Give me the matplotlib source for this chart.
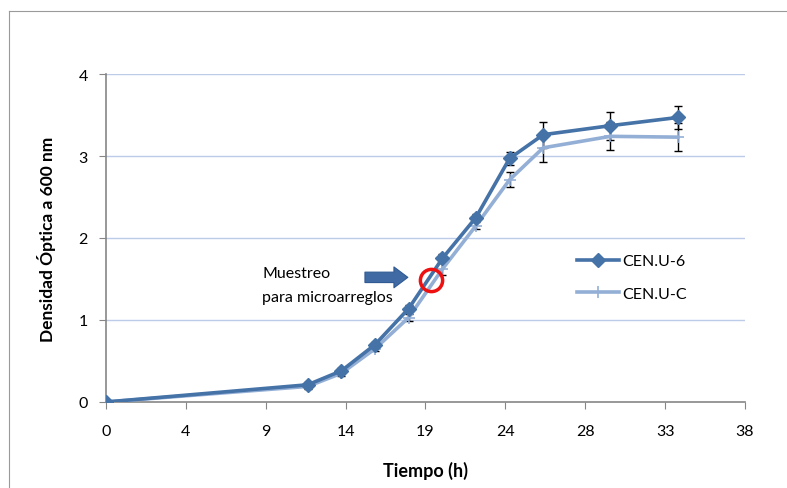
import matplotlib
matplotlib.use('Agg')
import matplotlib.pyplot as plt
from matplotlib.lines import Line2D

# Growth curve data
tiempo = [0, 12, 14, 16, 18, 20, 22, 24, 26, 30, 34]
cen_u6 = [0.0, 0.21, 0.38, 0.70, 1.14, 1.75, 2.25, 2.97, 3.26, 3.37, 3.47]
cen_u6_err = [0.02, 0.03, 0.03, 0.03, 0.04, 0.05, 0.04, 0.08, 0.16, 0.17, 0.14]
cen_uc = [0.0, 0.19, 0.35, 0.65, 1.03, 1.62, 2.15, 2.71, 3.10, 3.24, 3.23]
cen_uc_err = [0.02, 0.03, 0.03, 0.03, 0.04, 0.07, 0.04, 0.09, 0.17, 0.17, 0.17]
series_names = ["CEN.U-6", "CEN.U-C"]
xtick_labels = ["0", "4", "9", "14", "19", "24", "28", "33", "38"]
ytick_values = [0, 1, 2, 3, 4]

plt.rcParams['font.family'] = ['Lato', 'DejaVu Sans']
dark_blue = '#4572a7'
light_blue = '#94afd6'
axis_gray = '#868686'

fig = plt.figure(figsize=(7.87, 4.89), dpi=100)
ax = fig.add_axes([0.1347, 0.1759, 0.8119, 0.6707])

# outer chart border
fig.add_artist(Line2D([9/787, 9/787], [0, 1 - 12/489], transform=fig.transFigure, color='#9a9a9a', linewidth=0.8))
fig.add_artist(Line2D([9/787, 1], [1 - 12/489, 1 - 12/489], transform=fig.transFigure, color='#9a9a9a', linewidth=0.8))

for y in ytick_values[1:]:
    ax.axhline(y, color='#bccbe8', linewidth=1.0, zorder=0)

ax.errorbar(tiempo, cen_uc, yerr=cen_uc_err, fmt='none', ecolor='black', elinewidth=1, capsize=3, capthick=1, zorder=2)
ax.errorbar(tiempo, cen_u6, yerr=cen_u6_err, fmt='none', ecolor='black', elinewidth=1, capsize=3, capthick=1, zorder=2)
ax.plot(tiempo, cen_uc, color=light_blue, linewidth=2.6, marker='+', markersize=9, markeredgewidth=1.2, label=series_names[1], zorder=3)
ax.plot(tiempo, cen_u6, color=dark_blue, linewidth=2.6, marker='D', markersize=7.5, label=series_names[0], zorder=4)

# annotation: arrow + circle
ax.text(9.3, 1.57, "Muestreo", fontsize=11.5, ha='left', va='center')
ax.text(9.3, 1.28, "para microarreglos", fontsize=11.5, ha='left', va='center')
ax.annotate('', xy=(17.95, 1.52), xytext=(15.4, 1.52),
            arrowprops=dict(arrowstyle='simple,head_width=1.5,head_length=1.0,tail_width=0.75',
                            fc='#3f6aa3', ec='#2f5a93', lw=0.8, mutation_scale=10, shrinkA=0, shrinkB=0))
ax.plot([19.3], [1.49], marker='o', markersize=16, markerfacecolor='none', markeredgecolor='#ee1111', markeredgewidth=2.5, zorder=5)

ax.set_xlim(0, 38)
ax.set_ylim(0, 4)
ax.set_xticks([38 * i / 8 for i in range(9)])
ax.set_xticklabels(xtick_labels)
ax.set_yticks(ytick_values)
ax.tick_params(axis='both', direction='out', length=5, color=axis_gray, labelsize=11.5, labelcolor='black')
ax.tick_params(axis='x', pad=11)
ax.tick_params(axis='y', pad=8)
for side in ['top', 'right']:
    ax.spines[side].set_visible(False)
for side in ['left', 'bottom']:
    ax.spines[side].set_color(axis_gray)
    ax.spines[side].set_linewidth(1.2)

ax.set_xlabel("Tiempo (h)", fontsize=13, fontweight='bold', labelpad=16)
ax.set_ylabel("Densidad Óptica a 600 nm", fontsize=12.5, fontweight='bold', labelpad=16)

handles, labels = ax.get_legend_handles_labels()
ax.legend(handles[::-1], labels[::-1], loc='upper left', bbox_to_anchor=(0.715, 0.495), frameon=False,
          fontsize=11.5, handlelength=2.6, labelspacing=1.15, handletextpad=0.2)

fig.savefig('out.png', dpi=100)
